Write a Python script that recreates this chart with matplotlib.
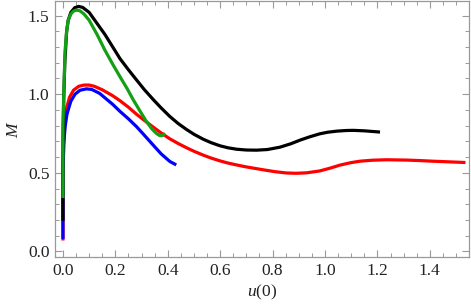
import matplotlib
matplotlib.use('Agg')
import matplotlib.pyplot as plt
from matplotlib.ticker import MultipleLocator

red_u = [0.0, 0.0, 0.003, 0.008, 0.015, 0.025, 0.04, 0.06, 0.08, 0.1, 0.12, 0.15, 0.19,
         0.218, 0.25, 0.281, 0.31, 0.345, 0.375, 0.408, 0.44, 0.472, 0.5, 0.536, 0.565,
         0.599, 0.63, 0.663, 0.695, 0.726, 0.765, 0.81, 0.853, 0.89, 0.93, 0.98, 1.02,
         1.057, 1.1, 1.134, 1.18, 1.235, 1.31, 1.36, 1.41, 1.47, 1.53]
red_m = [0.08, 0.5, 0.7, 0.83, 0.92, 0.98, 1.025, 1.05, 1.058, 1.058, 1.05, 1.028, 0.99,
         0.958, 0.917, 0.872, 0.834, 0.79, 0.753, 0.716, 0.686, 0.659, 0.637, 0.612, 0.594,
         0.576, 0.562, 0.55, 0.539, 0.53, 0.519, 0.507, 0.499, 0.497, 0.50, 0.512, 0.53,
         0.549, 0.565, 0.574, 0.58, 0.583, 0.581, 0.578, 0.574, 0.57, 0.566]

blue_u = [0.0, 0.0, 0.003, 0.008, 0.015, 0.02, 0.03, 0.046, 0.065, 0.09, 0.11, 0.14, 0.165,
          0.19, 0.218, 0.25, 0.281, 0.31, 0.345, 0.375, 0.408, 0.427]
blue_m = [0.09, 0.5, 0.68, 0.79, 0.87, 0.9, 0.955, 1.0, 1.025, 1.034, 1.03, 1.005, 0.97,
          0.935, 0.89, 0.843, 0.793, 0.74, 0.675, 0.62, 0.572, 0.555]

black_u = [0.0, 0.0, 0.003, 0.007, 0.014, 0.02, 0.03, 0.045, 0.06, 0.075, 0.1, 0.13, 0.16,
           0.19, 0.218, 0.25, 0.281, 0.31, 0.345, 0.375, 0.408, 0.44, 0.472, 0.5, 0.536,
           0.565, 0.599, 0.63, 0.663, 0.7, 0.739, 0.78, 0.828, 0.87, 0.905, 0.94, 0.98,
           1.01, 1.045, 1.08, 1.108, 1.15, 1.204]
black_m = [0.205, 0.7, 0.98, 1.2, 1.4, 1.47, 1.52, 1.55, 1.558, 1.552, 1.52, 1.45, 1.38,
           1.30, 1.225, 1.155, 1.09, 1.03, 0.965, 0.912, 0.858, 0.813, 0.775, 0.745, 0.713,
           0.692, 0.672, 0.659, 0.65, 0.645, 0.644, 0.648, 0.663, 0.685, 0.708, 0.728, 0.748,
           0.758, 0.765, 0.769, 0.77, 0.767, 0.76]

green_u = [0.0, 0.0, 0.003, 0.008, 0.014, 0.02, 0.03, 0.04, 0.052, 0.065, 0.08, 0.1, 0.13,
           0.16, 0.19, 0.218, 0.245, 0.268, 0.295, 0.319, 0.34, 0.357, 0.37, 0.378, 0.385]
green_m = [0.35, 0.8, 1.0, 1.277, 1.4, 1.47, 1.51, 1.528, 1.535, 1.53, 1.51, 1.47, 1.38,
           1.28, 1.19, 1.11, 1.035, 0.965, 0.89, 0.825, 0.778, 0.75, 0.736, 0.736, 0.745]


def main():
    plt.rcParams['font.family'] = ['Liberation Serif', 'DejaVu Serif']
    plt.rcParams['mathtext.fontset'] = 'custom'
    plt.rcParams['mathtext.rm'] = 'Liberation Serif'
    plt.rcParams['mathtext.it'] = 'Liberation Serif:italic'

    fig = plt.figure(figsize=(4.71, 3.07), dpi=100)
    ax = fig.add_axes([0.117, 0.163, 0.879, 0.834])

    lw = 2.3
    ax.plot(red_u, red_m, color='#ff0000', lw=lw)
    ax.plot(blue_u, blue_m, color='#0000ff', lw=lw)
    ax.plot(black_u, black_m, color='black', lw=lw)
    ax.plot(green_u, green_m, color='#14a014', lw=lw)

    ax.set_xlim(-0.03, 1.55)
    ax.set_ylim(-0.035, 1.593)

    ax.xaxis.set_major_locator(MultipleLocator(0.2))
    ax.xaxis.set_minor_locator(MultipleLocator(0.05))
    ax.yaxis.set_major_locator(MultipleLocator(0.5))
    ax.yaxis.set_minor_locator(MultipleLocator(0.1))
    ax.xaxis.set_major_formatter(plt.FuncFormatter(lambda v, p: f"{v:.1f}"))
    ax.yaxis.set_major_formatter(plt.FuncFormatter(lambda v, p: f"{v:.1f}"))

    fc = '#999999'
    for s in ax.spines.values():
        s.set_color(fc)
        s.set_linewidth(0.9)
    ax.tick_params(which='both', direction='in', top=True, right=True,
                   color=fc, labelsize=12.5, labelcolor='#222222', pad=4)
    ax.tick_params(which='major', length=5, width=0.8)
    ax.tick_params(which='minor', length=3, width=0.7)

    ax.set_xlabel('$u$(0)', fontsize=12.5, color='#222222', labelpad=3)
    ax.set_ylabel('$M$', fontsize=12.5, color='#222222', labelpad=4)

    fig.savefig('out.png', dpi=100)


if __name__ == "__main__":
    main()
